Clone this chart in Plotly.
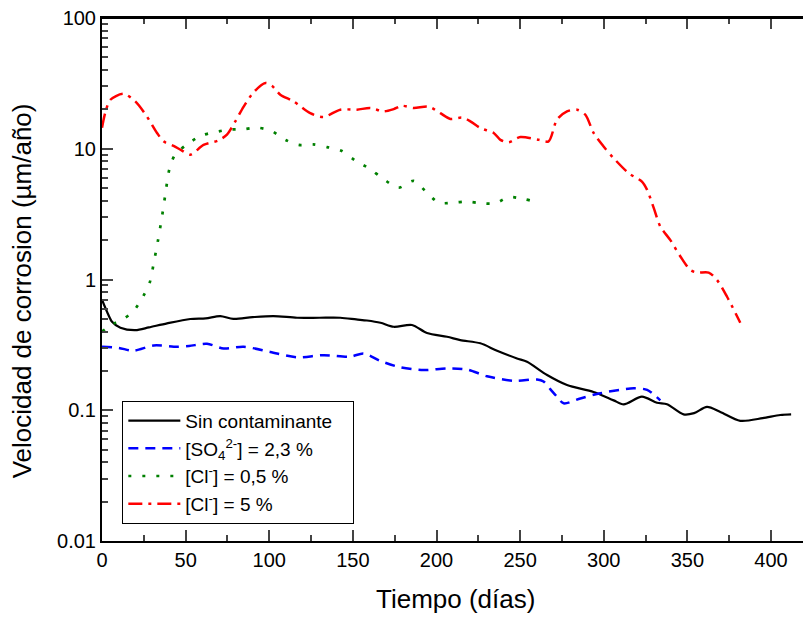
import plotly.graph_objects as go

# Velocidad de corrosion vs tiempo
sin_x = [0, 3, 6, 11, 20, 28, 38.9, 52.8, 62, 70.7, 78.5, 90, 102.5, 116.6, 130, 142.5, 152, 158.4,
         166.5, 174.4, 185.3, 194.3, 206.3, 214.2, 226.2, 236.2, 248.1, 254.1, 266.1, 278, 293.9,
         305.9, 311.9, 322.8, 331.8, 337.8, 347.7, 354, 361.7, 369.7, 381.6, 395, 405.5, 412]
sin_y = [0.70, 0.567, 0.475, 0.428, 0.41, 0.43, 0.462, 0.499, 0.505, 0.525, 0.50, 0.515, 0.525, 0.51,
         0.51, 0.51, 0.495, 0.486, 0.467, 0.435, 0.449, 0.39, 0.365, 0.344, 0.325, 0.285, 0.249, 0.235,
         0.186, 0.156, 0.138, 0.119, 0.111, 0.127, 0.114, 0.111, 0.093, 0.095, 0.106, 0.097, 0.083,
         0.087, 0.092, 0.093]

so4_x = [0, 10, 18.7, 30.9, 44.8, 52, 62.8, 72.7, 84.7, 100.6, 116.6, 132.5, 148.5, 156.4, 166.5,
         178.3, 192.3, 206.3, 218.2, 230.2, 246.1, 260.1, 264, 268, 272, 276, 286, 297.9, 317.9,
         325.9, 333.8]
so4_y = [0.306, 0.30, 0.285, 0.313, 0.306, 0.31, 0.322, 0.297, 0.306, 0.279, 0.254, 0.264, 0.257,
         0.272, 0.238, 0.213, 0.203, 0.209, 0.205, 0.182, 0.168, 0.172, 0.166, 0.145, 0.127, 0.113,
         0.123, 0.135, 0.147, 0.143, 0.119]

cl05_x = [0, 7, 13, 19, 24.5, 28.5, 31, 33.5, 36, 38, 40.2, 43.4, 50.8, 59.4, 67.3, 76.3, 84.3, 92.7,
          101.2, 109.6, 117.6, 126.2, 134.5, 143.1, 151.5, 160.4, 168.4, 177.3, 186.3, 193.3, 201.3,
          209.8, 218.2, 226.8, 235.2, 243.1, 252.1, 261.1]
cl05_y = [0.40, 0.46, 0.50, 0.577, 0.738, 0.945, 1.35, 2.0, 3.1, 4.6, 6.9, 8.87, 10.8, 12.6, 13.4,
          14.0, 14.1, 14.5, 13.7, 11.7, 10.7, 10.8, 10.3, 9.64, 8.12, 6.98, 5.85, 5.04, 5.68, 4.76,
          3.87, 3.87, 3.94, 3.83, 3.83, 4.26, 4.13, 3.87]

cl5_x = [0, 2, 5, 12.9, 19.9, 26.9, 32.9, 36.8, 42.8, 47.8, 52.8, 60.7, 69.7, 74.7, 79.7, 84.7, 90.7,
         97.7, 101.6, 106.6, 114.6, 124.5, 132.5, 142.5, 152.4, 160.4, 168.4, 174.4, 179.4, 186.3,
         195.3, 202.3, 208.3, 215.3, 220.2, 226.2, 234.2, 238.2, 243.1, 250.1, 261.1, 267, 272, 278,
         284, 289, 293.9, 299.9, 305.9, 314.9, 322.8, 325.9, 329.9, 333.8, 339.8, 345.8, 351.8,
         355.8, 362.7, 367.7, 373.7, 381.6]
cl5_y = [14.5, 19, 23.7, 26.3, 23.0, 17.6, 13.2, 11.4, 10.5, 9.69, 9.0, 10.7, 11.6, 12.8, 16.2, 21.0,
         27.1, 31.8, 30.3, 25.9, 23.0, 18.7, 17.5, 19.9, 19.9, 20.5, 19.3, 20.1, 21.3, 20.5, 21.0,
         18.7, 16.9, 17.3, 16.2, 14.4, 13.2, 11.7, 11.2, 12.3, 11.7, 11.4, 16.7, 19.3, 19.9, 18.2,
         13.2, 10.4, 8.47, 6.50, 5.61, 4.85, 3.51, 2.54, 2.00, 1.50, 1.18, 1.13, 1.13, 0.99, 0.738,
         0.467]

y_tickvals = [0.01, 0.1, 1, 10, 100]
y_ticktext = ['0.01', '0.1', '1', '10', '100']
x_tickvals = [0, 50, 100, 150, 200, 250, 300, 350, 400]

FONT = 'Liberation Sans, Arial, sans-serif'

series = [
    (sin_x, sin_y, 'Sin contaminante&nbsp;&nbsp;&nbsp;', '#000000', 'solid', 2.2),
    (so4_x, so4_y, '[SO<sub>4</sub><sup>2-</sup>] = 2,3 %', '#0000ff', '10px,7px', 2.5),
    (cl05_x, cl05_y, '[Cl<sup>-</sup>] = 0,5 %', '#008000', '3px,11px', 2.7),
    (cl5_x, cl5_y, '[Cl<sup>-</sup>] = 5 %', '#ff0000', '14px,6px,3px,6px', 2.5),
]

fig = go.Figure()
for xs, ys, name, color, dash, w in series:
    fig.add_trace(go.Scatter(x=xs, y=ys, name=name, mode='lines',
                             line=dict(color=color, dash=dash, width=w, shape='spline', smoothing=0.8)))

# invisible trace so the top axis (xaxis2) gets drawn
fig.add_trace(go.Scatter(x=[x_tickvals[0]], y=[y_tickvals[2]], xaxis='x2', mode='markers',
                         marker=dict(opacity=0), showlegend=False, hoverinfo='skip'))

minor_y = [m * 10 ** e for e in range(-2, 2) for m in range(2, 10)]

axis_common = dict(ticks='inside', ticklen=11, tickwidth=2, automargin=False,
                   showline=True, linecolor='black', linewidth=2, showgrid=False, zeroline=False)

fig.update_layout(
    width=803, height=618,
    margin=dict(l=102, r=0, t=18, b=77),
    paper_bgcolor='white', plot_bgcolor='white',
    font=dict(family=FONT, color='black', size=20),
    showlegend=True,
    legend=dict(x=0.029, y=0.033, xanchor='left', yanchor='bottom',
                bordercolor='black', borderwidth=1, bgcolor='white', itemwidth=52,
                font=dict(size=19, family=FONT), tracegroupgap=0),
    xaxis=dict(range=[0, 419.1], tickvals=x_tickvals, mirror=False,
               minor=dict(dtick=25, tick0=0, ticks='inside', ticklen=6, tickwidth=2, showgrid=False),
               tickfont=dict(size=20), ticklabeloverflow='allow', **axis_common),
    xaxis2=dict(range=[0, 419.1], tickvals=x_tickvals, overlaying='x', side='top', anchor='y',
                showticklabels=False,
                minor=dict(dtick=25, tick0=0, ticks='inside', ticklen=6, tickwidth=2, showgrid=False),
                **axis_common),
    yaxis=dict(type='log', range=[-2, 2], tickvals=y_tickvals, ticktext=y_ticktext, mirror=False,
               minor=dict(tickvals=minor_y, ticks='inside', ticklen=6, tickwidth=2, showgrid=False),
               tickfont=dict(size=20), ticklabeloverflow='allow', **axis_common),
    shapes=[dict(type='line', xref='paper', yref='paper', x0=0, x1=1, y0=1, y1=1,
                 line=dict(color='black', width=2), layer='above')],
    annotations=[
        dict(text='Tiempo (días)', xref='paper', yref='paper', x=0.5045, y=-0.11,
             xanchor='center', yanchor='middle', showarrow=False, font=dict(size=26)),
        dict(text='Velocidad de corrosion (µm/año)', xref='paper', yref='paper', x=-0.1136, y=0.478,
             xanchor='center', yanchor='middle', textangle=-90, showarrow=False, font=dict(size=26)),
    ],
)

# drop the page's default 8px body margin so the figure sits at the window's corner
fig.write_html("out.html", config=dict(displayModeBar=False),
               post_script="document.body.style.margin='0';")
